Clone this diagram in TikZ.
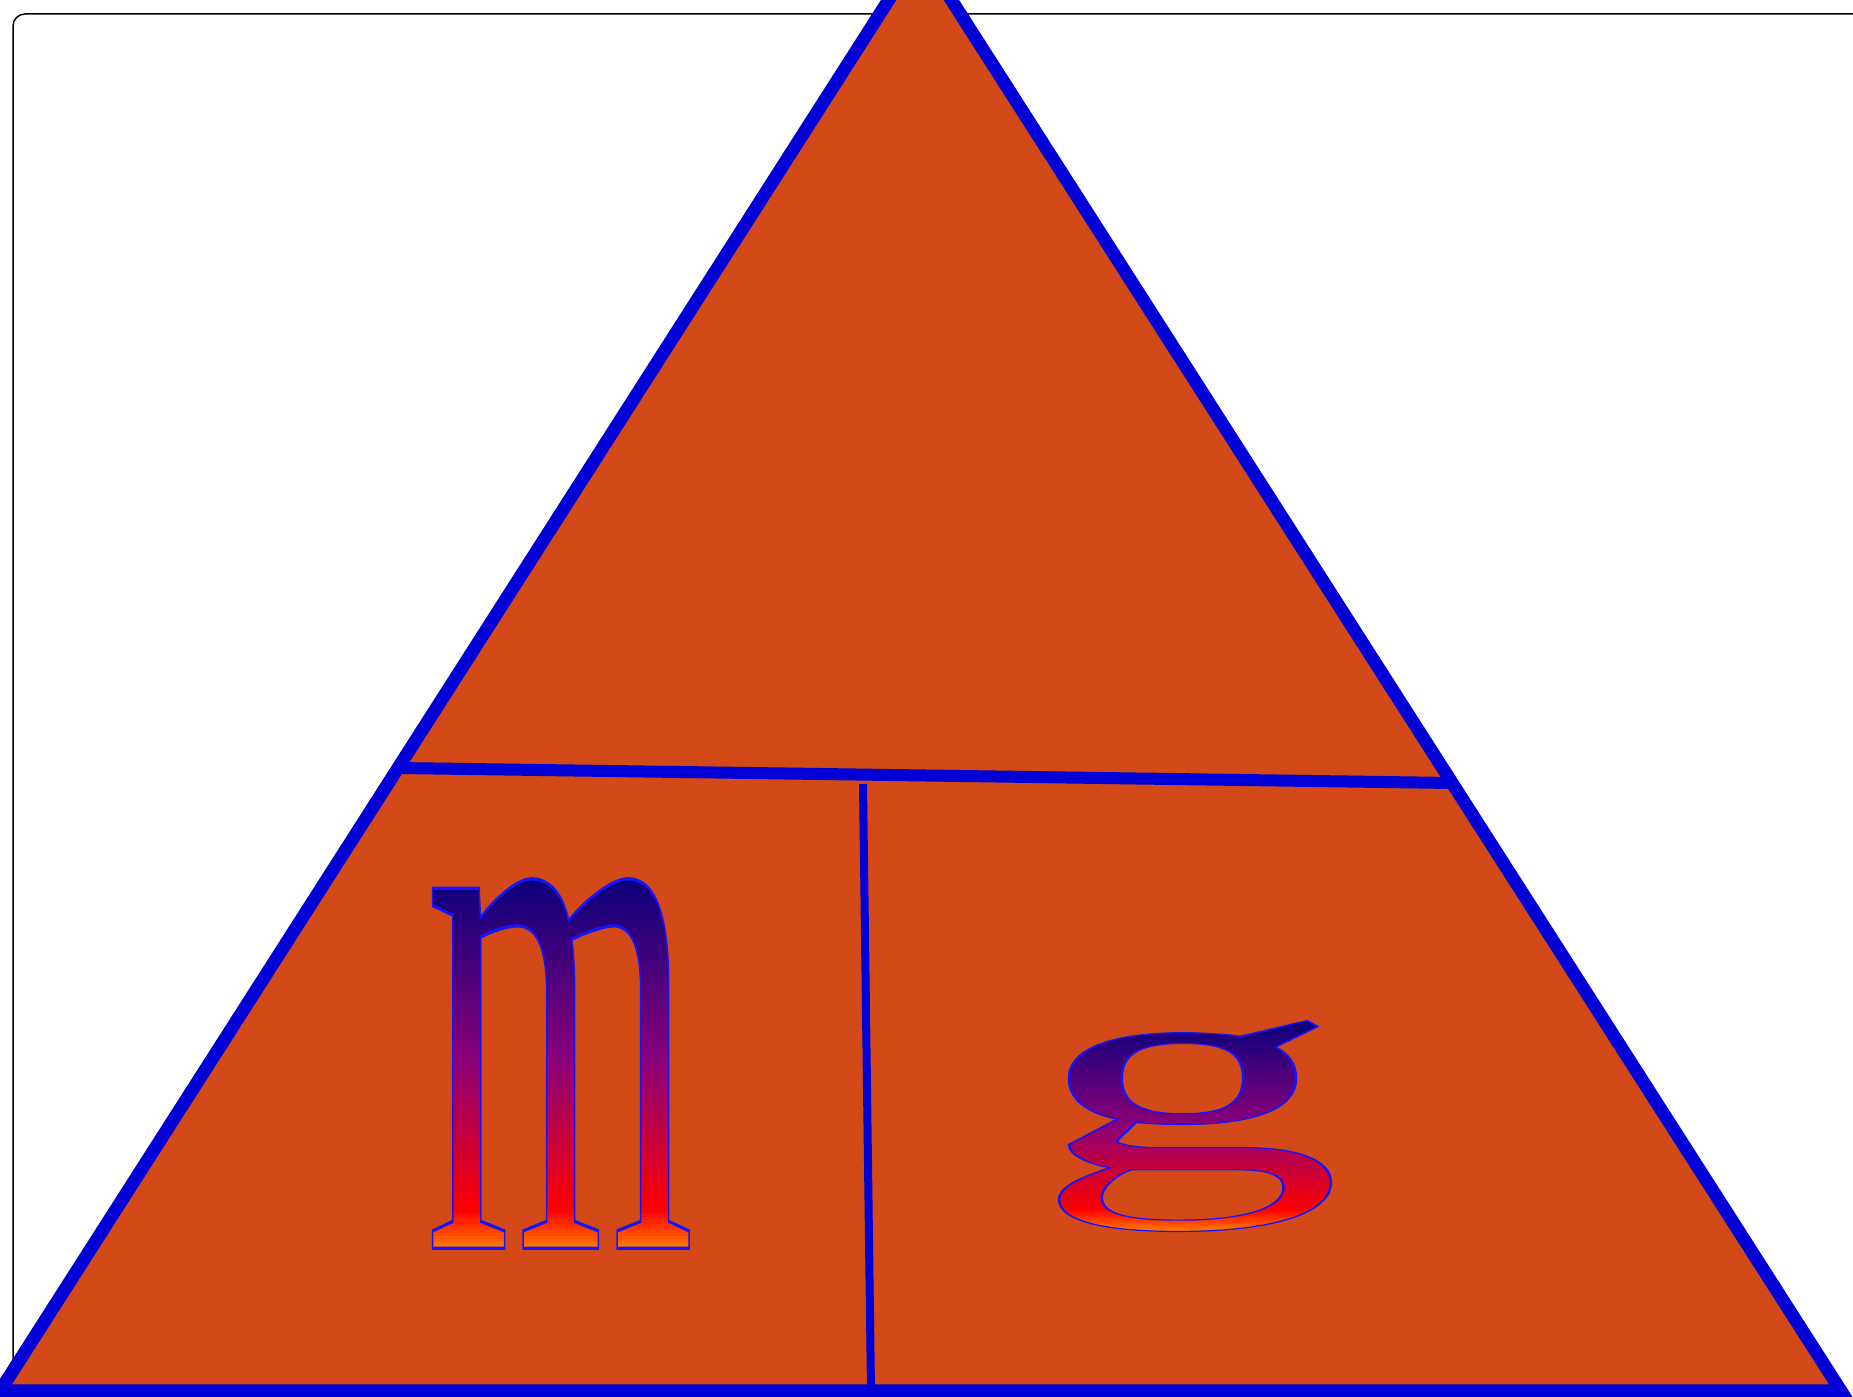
\documentclass[tikz,border=0pt]{standalone}
\usepackage{fontspec}
\newfontfamily\letterfont{Liberation Serif}
\definecolor{triorange}{RGB}{211,74,24}
\definecolor{triblue}{RGB}{0,0,214}
\definecolor{outblue}{RGB}{20,20,255}
\newcommand\lfont{\fontsize{168}{170}\letterfont}
\newcommand\outl[1]{\special{pdf:code 1 Tr 0.7 w}#1\special{pdf:code 0 Tr}}
\newsavebox\ltrbox
% gradient strips (navy top -> purple -> red -> orange bottom) as raw PDF code
\newcommand\buildstrips[5]{%
  \gdef#1{}%
  \pgfmathsetmacro\stH{(#5)-(#4)}%
  \pgfmathsetmacro\stX{#2}\pgfmathsetmacro\stW{#3}%
  \pgfmathsetmacro\stY{(#4)-30}%
  \xdef#1{1 0.49 0 rg \stX\space\stY\space\stW\space 30.5 re f }%
  \foreach \stI in {0,...,119}{%
    \pgfmathsetmacro\stT{(\stI+0.5)/120}%
    \pgfmathsetmacro\stY{(#4)+\stH*\stI/120}%
    \pgfmathsetmacro\stHH{\stH/120+0.3}%
    \ifdim\stT pt<0.1pt
      \pgfmathsetmacro\stS{\stT/0.1}%
      \def\colr{1}\pgfmathsetmacro\colg{0.49*(1-\stS)}\def\colb{0}%
    \else\ifdim\stT pt<0.5pt
      \pgfmathsetmacro\stS{(\stT-0.1)/0.4}%
      \pgfmathsetmacro\colr{1-0.45*\stS}\def\colg{0}\pgfmathsetmacro\colb{0.47*\stS}%
    \else
      \pgfmathsetmacro\stS{(\stT-0.5)/0.5}%
      \pgfmathsetmacro\colr{0.55-0.51*\stS}\def\colg{0}\pgfmathsetmacro\colb{0.47+0.02*\stS}%
    \fi\fi
    \xdef#1{#1\colr\space\colg\space\colb\space rg \stX\space\stY\space\stW\space\stHH\space re f }%
  }%
  \xdef#1{#1 0.04 0 0.49 rg \stX\space #5 \stW\space 30 re f}%
}
\newdimen\ltrwd \newdimen\ltrht \newdimen\ltrdp
\newcommand\preparestrips[2]{% #1 result macro, #2 letter
  \sbox\ltrbox{\lfont #2}%
  \global\ltrwd=\wd\ltrbox \global\ltrht=\ht\ltrbox \global\ltrdp=\dp\ltrbox
  \pgfmathsetmacro\ltA{\ltrwd*0.99626}%
  \pgfmathsetmacro\ltB{-\ltrdp*0.99626}%
  \pgfmathsetmacro\ltT{\ltrht*0.99626}%
  \pgfmathsetmacro\ltX{-\ltA-4}%
  \pgfmathsetmacro\ltW{\ltA+8}%
  \buildstrips{#1}{\ltX}{\ltW}{\ltB}{\ltT}%
}
\newcommand\fillletter[2]{\special{pdf:code 7 Tr}#1\special{pdf:code 0 Tr}\vrule width 0.1pt height 0.1pt depth 0pt\kern-0.1pt\special{pdf:content #2}}
\begin{document}
\preparestrips{\mstrips}{m}%
\preparestrips{\gstrips}{g}%
\begin{tikzpicture}[x=0.5pt,y=0.5pt,
  frameline/.style={draw=black,line width=0.75pt,rounded corners=6pt},
  tri/.style={draw=triblue,line width=6.5pt,fill=triorange,line join=miter},
  divider/.style={draw=triblue},
  lettertext/.style={text=outblue,inner sep=0pt,font=\lfont,anchor=center},
  mscale/.style={xscale=1.03,yscale=2.333},
  gscale/.style={xscale=1.847,yscale=0.861}]
\useasboundingbox (0,0) rectangle (1853,1397);
\clip (0,0) rectangle (1853,1397);
\draw[frameline] (13,-60) -- (13,1383) -- (1950,1383);
\coordinate (A) at (920,1446);
\coordinate (B) at (0,6);
\coordinate (C) at (1841,6);
\coordinate (HL) at (398,629);
\coordinate (HR) at (1452,614);
\coordinate (VT) at (863,613);
\coordinate (VB) at (871,6);
\draw[tri] (A) -- (B) -- (C) -- cycle;
\draw[divider,line width=6pt] (HL) -- (HR);
\draw[divider,line width=4pt] (VT) -- (VB);
% letter m
\begin{scope}[shift={(560,333.5)}]
  \node[lettertext,mscale] (mfill) at (0,0) {\fillletter{m}{\mstrips}};
\end{scope}
\begin{scope}[shift={(560,333.5)}]
  \node[lettertext,mscale] (mlet) at (0,0) {\outl{m}};
\end{scope}
% letter g
\begin{scope}[shift={(1187.5,271)}]
  \node[lettertext,gscale] (gfill) at (0,0) {\fillletter{g}{\gstrips}};
\end{scope}
\begin{scope}[shift={(1187.5,271)}]
  \node[lettertext,gscale] (glet) at (0,0) {\outl{g}};
\end{scope}
\end{tikzpicture}
\end{document}
